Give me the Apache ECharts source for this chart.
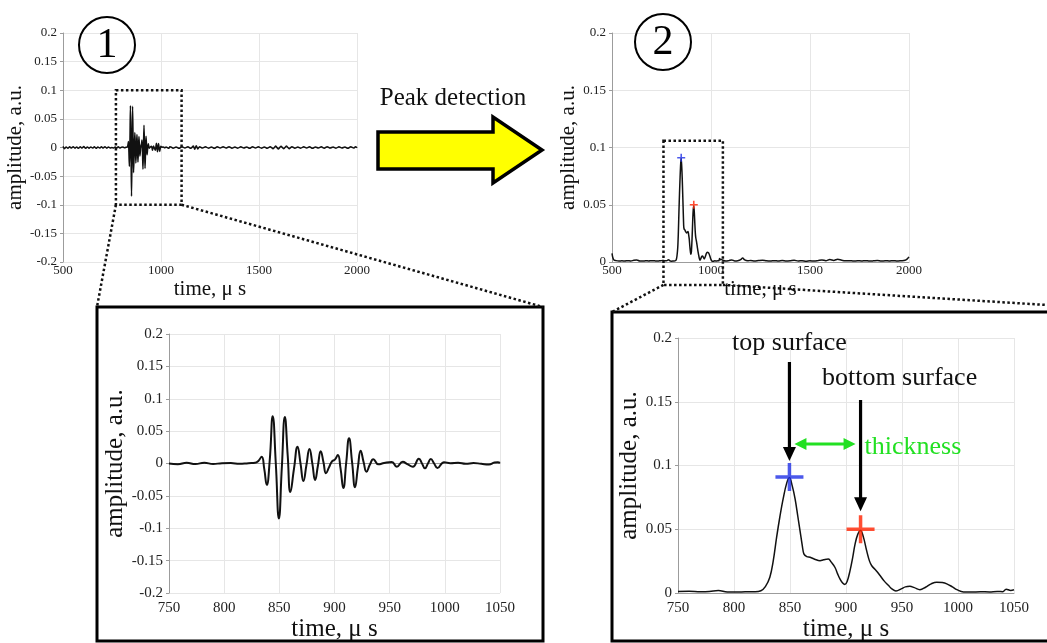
<!DOCTYPE html>
<html>
<head>
<meta charset="utf-8">
<script src="https://cdn.jsdelivr.net/npm/echarts@6/dist/echarts.min.js"></script>
<style>
  html, body { margin: 0; padding: 0; background: #fff; }
  #main { width: 1047px; height: 643px; }
</style>
</head>
<body>
<div id="main"></div>
<script>
// ---- measured signal: raw echo waveform [time µs, amplitude] ----
const rawPulse = [
  [750,0],[758,-0.001],[766,0.001],[774,-0.0008],[782,0.0012],[790,-0.0008],[798,0.0005],
  [806,0.0008],[814,-0.0005],[822,0.0005],[828,0.001],[831,0.004],[834,0.0105],[836.3,-0.008],
  [838.6,-0.033],[841.3,0.005],[844,0.073],[846.8,0],[849.6,-0.085],[852.3,-0.005],[855,0.072],
  [857.6,0.012],[860,-0.044],[863.3,-0.008],[866.5,0.026],[869.2,0],[871.8,-0.027],[874.6,-0.002],
  [877.3,0.0225],[880,-0.001],[882.4,-0.0255],[885,-0.003],[887.5,0.019],[890,0.002],[892.3,-0.015],
  [895,-0.006],[897.6,0.003],[900.3,0.006],[903,0.013],[905.5,-0.008],[908,-0.038],[910.6,0.001],
  [913.2,0.039],[916,0.001],[918.6,-0.0366],[921.2,-0.006],[923.7,0.0198],[926.4,0.002],[929,-0.0127],
  [932,-0.002],[935.2,0.0065],[939.8,-0.0013],[945,0.0008],[951.9,0.0024],[956.5,-0.005],[961.9,0.0026],
  [966,-0.001],[971,-0.005],[976.5,0.0075],[979.3,0],[982,-0.0075],[984.7,0],[987.3,0.0068],[990.3,0],
  [993.3,-0.007],[999.3,0.002],[1005,0.0005],[1012,0.001],[1019,-0.0005],[1026,0.0008],[1033,-0.0005],
  [1040,-0.0015],[1045,0.0015],[1048,0.002],[1050,0.001]
];
// baseline noise of the raw record before and after the echoes
const rawLead = [
  [500,0.002],[508,-0.002],[516,0.001],[525,-0.0015],[534,0.0012],[543,-0.001],[552,0.0015],
  [561,-0.0012],[570,0.001],[579,-0.0015],[588,0.0012],[597,-0.001],[606,0.0018],[615,-0.0015],
  [624,0.001],[633,-0.0012],[642,0.001],[651,-0.001],[660,0.0012],[669,-0.0015],[678,0.001],
  [687,-0.001],[696,0.0012],[705,-0.001],[714,0.0015],[723,-0.0012],[732,0.001],[741,-0.001]
];
const rawTail = [
  [1062,-0.0012],[1077,0.001],[1092,-0.0015],[1107,0.0012],[1122,-0.001],[1137,0.0012],[1152,-0.0015],
  [1165,0.0025],[1172,-0.003],[1180,0.003],[1188,-0.0025],[1197,0.0015],[1212,-0.001],[1227,0.0012],
  [1242,-0.0012],[1257,0.001],[1272,-0.0015],[1287,0.0012],[1302,-0.001],[1317,0.0012],[1332,-0.001],
  [1347,0.0015],[1362,-0.0012],[1377,0.001],[1392,-0.0012],[1407,0.0012],[1422,-0.001],[1437,0.001],
  [1452,-0.0015],[1467,0.0012],[1482,-0.001],[1497,0.0012],[1512,-0.0012],[1527,0.001],[1542,-0.0015],
  [1557,0.0015],[1572,-0.002],[1585,0.0025],[1598,-0.0025],[1612,0.002],[1626,-0.002],[1640,0.0025],
  [1654,-0.002],[1668,0.0015],[1683,-0.0012],[1698,0.001],[1713,-0.0012],[1728,0.0012],[1743,-0.001],
  [1758,0.0012],[1773,-0.0015],[1788,0.001],[1803,-0.001],[1818,0.0012],[1833,-0.0012],[1848,0.0015],
  [1863,-0.001],[1878,0.001],[1893,-0.0012],[1908,0.0012],[1923,-0.001],[1938,0.001],[1953,-0.0015],
  [1968,0.0012],[1983,-0.001],[1992,0.0012],[2000,-0.0005]
];

// ---- envelope after peak detection processing [time µs, amplitude] ----
const envPulse = [
  [750,0.0012],[760,0.0013],[770,0.001],[778,0.0012],[786,0.002],[794,0.0008],[802,0.0007],
  [810,0.0009],[818,0.001],[824,0.0018],[828,0.005],[832,0.0124],[835,0.025],[838,0.0434],
  [841,0.06],[844,0.0744],[847,0.086],[849.5,0.0905],[852,0.084],[854.5,0.074],[857,0.06],
  [859,0.0486],[861,0.037],[862.5,0.0305],[865,0.0285],[868,0.028],[872,0.0265],[876.8,0.0253],
  [880,0.026],[884.2,0.0266],[887,0.024],[890.2,0.02],[892.5,0.015],[894.6,0.011],[897,0.0078],
  [899,0.0067],[901,0.009],[903.6,0.0176],[906,0.028],[908,0.038],[910.5,0.046],[913,0.049],
  [915.5,0.044],[918.5,0.033],[921,0.025],[923,0.0214],[927,0.0175],[930.4,0.0137],[934,0.0095],
  [937.8,0.006],[941,0.0032],[944.6,0.0016],[949.7,0.0034],[953,0.0048],[957,0.0052],[961,0.0042],
  [966,0.0026],[971,0.0045],[976,0.0072],[981,0.0085],[986,0.0082],[990,0.0072],[995,0.0048],
  [999,0.0026],[1005,0.0008],[1012,0.0007],[1020,0.001],[1028,0.0008],[1035,0.0012],[1040,0.001],
  [1043,0.003],[1047,0.002],[1050,0.0025]
];
const envLead = [
  [500,0.0075],[504,0.004],[510,0.0018],[520,0.0012],[535,0.0008],[550,0.001],[565,0.0009],
  [580,0.0012],[595,0.0008],[610,0.0015],[625,0.0018],[640,0.0009],[655,0.0008],[670,0.0011],
  [685,0.0009],[700,0.0012],[715,0.001],[730,0.0008],[740,0.0011]
];
const envTail = [
  [1060,0.0015],[1075,0.0008],[1090,0.0012],[1105,0.0018],[1120,0.0009],[1135,0.0011],[1150,0.002],
  [1160,0.0035],[1170,0.0018],[1185,0.001],[1200,0.0014],[1220,0.0009],[1240,0.0013],[1260,0.0016],
  [1280,0.001],[1300,0.0008],[1320,0.0012],[1340,0.0009],[1360,0.0014],[1380,0.0009],[1400,0.0011],
  [1420,0.0015],[1440,0.0009],[1460,0.0012],[1480,0.0007],[1500,0.0011],[1520,0.0008],[1540,0.0012],
  [1560,0.0018],[1580,0.0011],[1600,0.0022],[1620,0.0014],[1640,0.0025],[1660,0.0015],[1680,0.001],
  [1700,0.0012],[1720,0.0008],[1740,0.0011],[1760,0.0009],[1780,0.0012],[1800,0.0008],[1820,0.001],
  [1840,0.0013],[1860,0.0008],[1880,0.0011],[1900,0.0009],[1920,0.0012],[1940,0.0008],[1960,0.0011],
  [1980,0.0015],[1990,0.0025],[2000,0.0045]
];

// detected echo peaks: top surface, bottom surface
const peakTimes = [849.5, 913];
const peakAmps = [0.091, 0.05];

// zoom windows [tMin, tMax, aMin, aMax]
const rawWindow = [770, 1105, -0.1, 0.1];
const envWindow = [760, 1060, -0.02, 0.106];

// axis ranges and steps
const fullRange = [500, 2000, 500];
const zoomRange = [750, 1050, 50];
const rawAmpRange = [-0.2, 0.2, 0.05];
const envAmpRange = [0, 0.2, 0.05];

const xName = 'time, \u03bc s';
const yName = 'amplitude, a.u.';
const peakLabels = ['top surface', 'bottom surface', 'thickness'];
const stepLabels = ['1', '2', 'Peak detection'];

const SERIF = '"Liberation Serif", "Times New Roman", serif';
const chart = echarts.init(document.getElementById('main'), null, { renderer: 'canvas' });

function xAxis(gi, r, tick, nameSize, nameGap, margin) {
  return {
    type: 'value', gridIndex: gi, min: r[0], max: r[1], interval: r[2],
    name: xName, nameLocation: 'middle', nameGap: nameGap,
    nameTextStyle: { fontFamily: SERIF, fontSize: nameSize, color: '#111' },
    axisLine: { lineStyle: { color: '#9c9c9c', width: 1 } },
    axisTick: { show: false },
    axisLabel: { fontFamily: SERIF, fontSize: tick, color: '#222', margin: margin,
      formatter: v => String(v) },
    splitLine: { show: true, lineStyle: { color: '#e6e6e6', width: 1 } }
  };
}
function yAxis(gi, r, tick, nameSize, nameGap) {
  return {
    type: 'value', gridIndex: gi, min: r[0], max: r[1], interval: r[2],
    name: yName, nameLocation: 'middle', nameGap: nameGap,
    nameTextStyle: { fontFamily: SERIF, fontSize: nameSize, color: '#111' },
    axisLine: { show: true, lineStyle: { color: '#9c9c9c', width: 1 } },
    axisTick: { show: true, length: 3, lineStyle: { color: '#9c9c9c' } },
    axisLabel: { fontFamily: SERIF, fontSize: tick, color: '#222', margin: 6 },
    splitLine: { show: true, lineStyle: { color: '#e6e6e6', width: 1 } }
  };
}

const bigCross = 'path://M0,7H16V9H0Z M7,0H9V16H7Z';
const smallCross = 'path://M0,3.2H8V4.8H0Z M3.2,0H4.8V8H3.2Z';
const peakColors = ['#1f2fe6', '#ff2200'];

function peakPoints() {
  return peakTimes.map((t, i) => ({ value: [t, peakAmps[i]], itemStyle: { color: peakColors[i] } }));
}

chart.setOption({
  animation: false,
  backgroundColor: '#fff',
  grid: [
    { left: 63, top: 33, width: 294, height: 229 },
    { left: 612, top: 33, width: 297, height: 229 },
    { left: 169, top: 334, width: 331, height: 259 },
    { left: 678, top: 338, width: 336, height: 258 }
  ],
  xAxis: [
    xAxis(0, fullRange, 13, 21, 17, 2),
    xAxis(1, fullRange, 13, 21, 17, 2),
    xAxis(2, zoomRange, 15, 25, 24, 8),
    xAxis(3, zoomRange, 15, 25, 24, 8)
  ],
  yAxis: [
    yAxis(0, rawAmpRange, 13, 21, 30),
    yAxis(1, envAmpRange, 13, 21, 30),
    yAxis(2, rawAmpRange, 15, 25, 38),
    yAxis(3, envAmpRange, 15, 25, 33)
  ],
  series: [
    { type: 'line', xAxisIndex: 0, yAxisIndex: 0, data: rawLead.concat(rawPulse, rawTail),
      showSymbol: false, smooth: 0.3, lineStyle: { color: '#111', width: 1.5 } },
    { type: 'line', xAxisIndex: 1, yAxisIndex: 1, data: envLead.concat(envPulse, envTail),
      showSymbol: false, smooth: 0.3, lineStyle: { color: '#111', width: 1.5 } },
    { type: 'line', xAxisIndex: 2, yAxisIndex: 2, data: rawPulse,
      showSymbol: false, smooth: 0.5, lineStyle: { color: '#111', width: 2 } },
    { type: 'line', xAxisIndex: 3, yAxisIndex: 3, data: envPulse,
      showSymbol: false, smooth: 0.4, lineStyle: { color: '#111', width: 1.5 } },
    { type: 'scatter', xAxisIndex: 1, yAxisIndex: 1, data: peakPoints(),
      symbol: smallCross, symbolSize: 8, z: 5 },
    { type: 'scatter', xAxisIndex: 3, yAxisIndex: 3, data: peakPoints(),
      symbol: bigCross, symbolSize: 28, z: 5 }
  ]
});

// ---- overlay: zoom windows, connectors, panels, annotations ----
const px = (gi, p) => chart.convertToPixel({ gridIndex: gi }, p);
const DOT = { stroke: '#111', lineWidth: 2.5, lineDash: [2.5, 2.5], fill: null };
const els = [];

function windowRect(gi, w) {
  const a = px(gi, [w[0], w[3]]);
  const b = px(gi, [w[1], w[2]]);
  els.push({ type: 'rect', z: 100, shape: { x: a[0], y: a[1], width: b[0] - a[0], height: b[1] - a[1] }, style: DOT });
  return { bl: [a[0], b[1]], br: [b[0], b[1]] };
}
function dotted(p, q) {
  els.push({ type: 'line', z: 100, shape: { x1: p[0], y1: p[1], x2: q[0], y2: q[1] }, style: DOT });
}
function panel(x, y, w, h) {
  els.push({ type: 'rect', z: 100, shape: { x: x, y: y, width: w, height: h }, style: { fill: null, stroke: '#000', lineWidth: 3 } });
}
function label(text, x, y, size, color, align) {
  els.push({ type: 'text', z: 110, style: {
    text: text, x: x, y: y, font: size + 'px ' + SERIF, fill: color,
    align: align || 'center', verticalAlign: 'middle', textAlign: align || 'center', textVerticalAlign: 'middle' } });
}
function downArrow(x, y0, tip, color) {
  els.push({ type: 'line', z: 110, shape: { x1: x, y1: y0, x2: x, y2: tip - 10 }, style: { stroke: color, lineWidth: 3.2 } });
  els.push({ type: 'polygon', z: 110, shape: { points: [[x - 6.5, tip - 14], [x + 6.5, tip - 14], [x, tip]] }, style: { fill: color } });
}
function stepCircle(cx, cy, text) {
  els.push({ type: 'circle', z: 100, shape: { cx: cx, cy: cy, r: 28 }, style: { fill: null, stroke: '#000', lineWidth: 2 } });
  label(text, cx, cy + 1, 42, '#000');
}

// panel 1 -> zoomed panel 3
const w1 = windowRect(0, rawWindow);
panel(97, 307, 446, 334);
dotted(w1.bl, [97, 307]);
dotted(w1.br, [543, 307]);

// panel 2 -> zoomed panel 4
const w2 = windowRect(1, envWindow);
panel(612, 312, 470, 329);
dotted(w2.bl, [612, 312]);
dotted(w2.br, [1047, 305]);

stepCircle(107, 45, stepLabels[0]);
stepCircle(663, 42, stepLabels[1]);

// processing arrow
els.push({ type: 'polygon', z: 100, shape: { points: [[378, 132], [493, 132], [493, 117], [542, 150], [493, 183], [493, 169], [378, 169]] },
  style: { fill: '#ffff00', stroke: '#000', lineWidth: 3.5, lineJoin: 'miter' } });
label(stepLabels[2], 453, 98, 25, '#111');

// peak annotations in panel 4
const pTop = px(3, [peakTimes[0], peakAmps[0]]);
const pBot = px(3, [peakTimes[1], peakAmps[1]]);
label(peakLabels[0], pTop[0], 343, 26, '#111');
downArrow(pTop[0], 362, pTop[1] - 16, '#000');
label(peakLabels[1], pBot[0] + 39, 378, 26, '#111');
downArrow(pBot[0], 400, pBot[1] - 18, '#000');

const green = '#22e022';
const gy = 444, gx0 = pTop[0] + 5, gx1 = pBot[0] - 5;
els.push({ type: 'line', z: 110, shape: { x1: gx0 + 8, y1: gy, x2: gx1 - 8, y2: gy }, style: { stroke: green, lineWidth: 3 } });
els.push({ type: 'polygon', z: 110, shape: { points: [[gx0, gy], [gx0 + 12, gy - 6], [gx0 + 12, gy + 6]] }, style: { fill: green } });
els.push({ type: 'polygon', z: 110, shape: { points: [[gx1, gy], [gx1 - 12, gy - 6], [gx1 - 12, gy + 6]] }, style: { fill: green } });
label(peakLabels[2], pBot[0] + 4, 447, 26, green, 'left');

chart.setOption({ graphic: { elements: els } });
</script>
</body>
</html>
